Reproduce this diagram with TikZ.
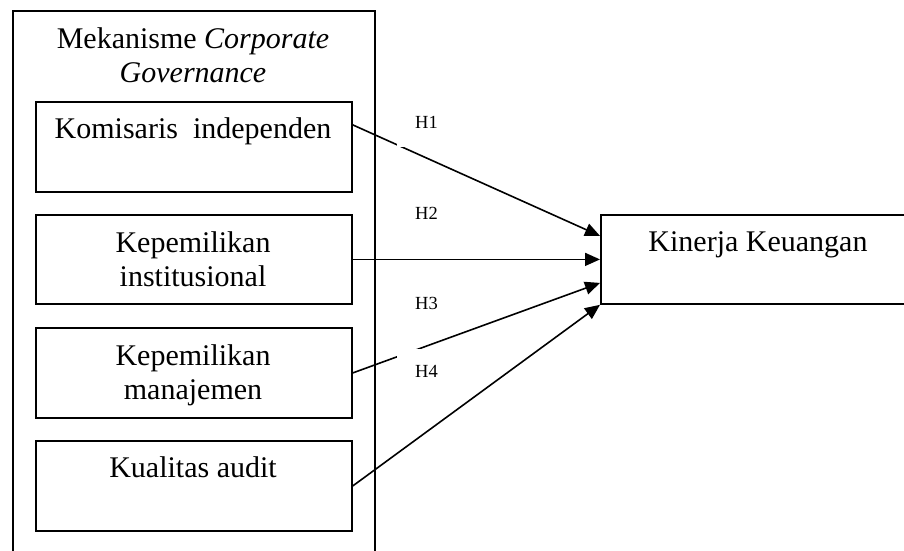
\documentclass[tikz,border=0pt]{standalone}
\usepackage{fontspec}
\setmainfont{Liberation Serif}
\usetikzlibrary{arrows.meta}
\begin{document}
\begin{tikzpicture}[x=1pt,y=-1pt,
  frame/.style={draw, line width=1.8pt, rectangle, inner sep=0pt, anchor=north west},
  boxtext/.style={font=\fontsize{30}{33.5}\selectfont, align=center, anchor=north, inner sep=0pt},
  hlab/.style={font=\fontsize{18.5}{20}\selectfont, anchor=base west, inner sep=0pt},
  gaplab/.style={hlab, fill=white, inner xsep=18pt, text height=13pt, text depth=0pt},
  conn/.style={line width=1.6pt, -{Triangle[length=15pt,width=13pt]}}]
\useasboundingbox (0,0) rectangle (904,550);
% frames
\node[frame, minimum width=362pt, minimum height=600pt] (outer) at (12,10) {};
\node[frame, minimum width=316pt, minimum height=90pt] (k1) at (35,101) {};
\node[frame, minimum width=316pt, minimum height=89pt] (k2) at (35,214) {};
\node[frame, minimum width=316pt, minimum height=90pt] (k3) at (35,327) {};
\node[frame, minimum width=316pt, minimum height=90pt] (k4) at (35,440) {};
\node[frame, minimum width=330pt, minimum height=89pt] (kin) at (600,214) {};
% texts
\node[boxtext] (title) at (193,27.6) {Mekanisme \textit{Corporate}\\\textit{Governance}};
\node[boxtext] (t1) at (193,117.6) {Komisaris~~independen};
\node[boxtext] (t2) at (193,231.6) {Kepemilikan\\institusional};
\node[boxtext] (t3) at (193,344.6) {Kepemilikan\\manajemen};
\node[boxtext] (t4) at (193,456.6) {Kualitas audit};
\node[boxtext] (tk) at (758,231.6) {Kinerja Keuangan};
% connectors
\draw[conn] ([yshift=22pt]k1.east) -- ([yshift=23.5pt]kin.west);
\draw[conn] (k2.east) -- (kin.west);
\draw[conn] (k3.east) -- ([yshift=-23.5pt]kin.west);
\draw[conn] (k4.east) -- (kin.south west);
% labels
\node[gaplab, inner ysep=19pt] (h1) at (397,128) {H1};
\node[hlab] (h2) at (415,219) {H2};
\node[hlab] (h3) at (415,309) {H3};
\node[gaplab, inner ysep=15pt] (h4) at (397,377) {H4};
\end{tikzpicture}
\end{document}
